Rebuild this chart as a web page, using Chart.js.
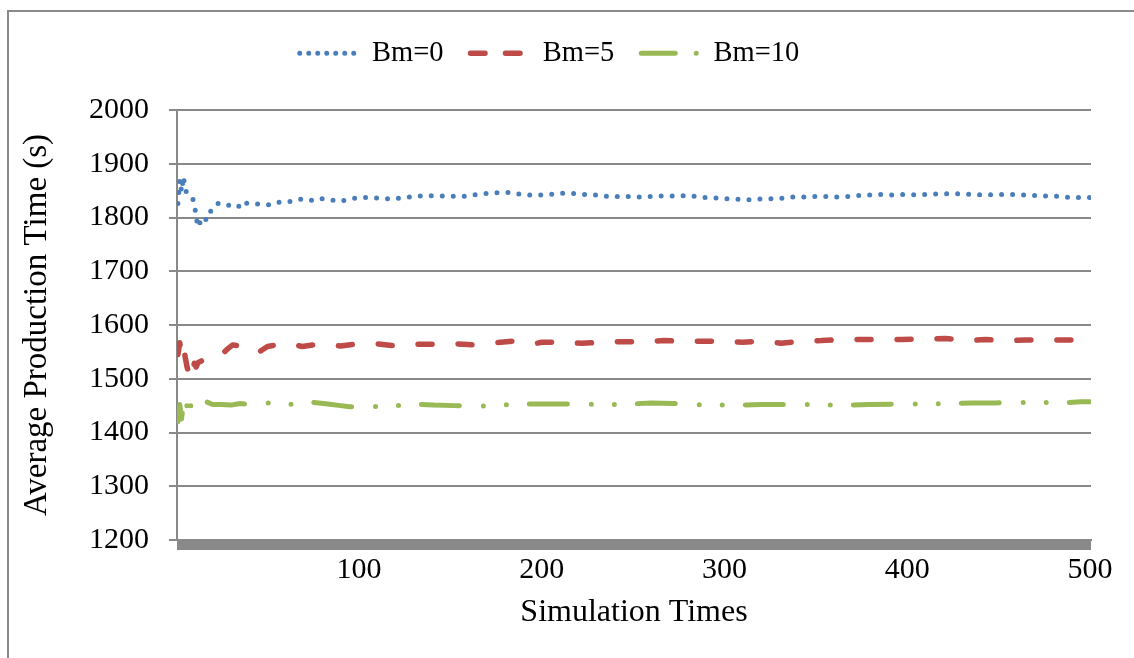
<!DOCTYPE html>
<html>
<head>
<meta charset="utf-8">
<script src="https://cdn.jsdelivr.net/npm/chart.js@4.4.0/dist/chart.umd.min.js"></script>
<style>
html,body{margin:0;padding:0;background:#fff;}
#frame{position:absolute;left:7px;top:10px;width:1200px;height:700px;border:2px solid #8a8a8a;box-sizing:border-box;}
#wrap{position:absolute;left:0;top:0;width:1134px;height:658px;}
</style>
</head>
<body>
<div id="frame"></div>
<div id="wrap"><canvas id="c" width="1134" height="658"></canvas></div>
<script>
// simulation run index (x) and average production time (y)
const runs0 = [1,2,3,4,5,6,7,8,9,10,
  11,12,13,14,15,17,19,21,23,26,
  30,34,36,40,47,52,57,63,68,73,
  78,84,89,95,100,106,112,118,124,130,
  136,142,148,154,160,166,172,178,184,190,
  196,202,208,214,220,226,232,238,244,250,
  256,262,268,274,280,286,292,300,306,312,
  318,324,330,336,342,350,356,362,368,374,
  380,386,392,400,406,412,418,424,430,436,
  442,450,456,462,468,474,480,486,492,500];
const time0 = [1826,1870,1848,1876,1852,1845,1840,1838,1836,1826,
  1800,1782,1790,1801,1798,1795,1812,1822,1826,1822,
  1823,1819,1830,1825,1825,1823,1829,1830,1834,1831,
  1836,1833,1830,1834,1837,1837,1836,1834,1837,1839,
  1841,1840,1840,1839,1840,1844,1845,1847,1846,1842,
  1842,1842,1844,1846,1844,1842,1842,1838,1840,1838,
  1838,1840,1840,1840,1841,1838,1837,1835,1834,1833,
  1834,1835,1835,1838,1838,1839,1839,1838,1839,1841,
  1842,1843,1842,1843,1842,1843,1844,1844,1844,1843,
  1842,1843,1843,1842,1841,1840,1840,1838,1837,1837];

const runs5 = [1,2,3,4,5,6,7,8,9,10,
  11,12,15,19,24,28,31,36,41,45,
  50,55,60,69,75,80,90,100,110,120,
  131,142,153,163,175,185,196,200,211,222,
  233,244,255,267,277,288,299,310,320,331,
  342,353,365,375,387,397,411,421,433,443,
  455,465,477,487,500];
const time5 = [1545,1567,1548,1562,1540,1522,1510,1499,1510,1529,
  1522,1530,1535,1538,1542,1555,1563,1560,1557,1549,
  1560,1563,1566,1560,1563,1565,1561,1565,1565,1561,
  1564,1564,1565,1563,1567,1570,1565,1568,1568,1566,
  1568,1569,1569,1571,1570,1570,1570,1568,1570,1566,
  1570,1571,1573,1573,1573,1573,1574,1575,1571,1573,
  1571,1572,1572,1572,1572];

const runs10 = [1,2,3,4,5,6,7,8,9,12,
  16,20,25,30,35,40,45,50,55,60,
  66,72,78,83,90,95,100,107,118,130,
  141,152,165,177,189,200,212,224,236,248,
  260,272,284,295,308,320,332,344,355,368,
  379,400,424,435,448,459,472,484,495,500];
const time10 = [1420,1452,1425,1455,1440,1451,1430,1450,1448,1465,
  1458,1452,1452,1451,1454,1452,1456,1455,1452,1451,
  1454,1457,1455,1453,1450,1448,1448,1448,1449,1453,
  1451,1450,1449,1451,1453,1453,1453,1453,1452,1453,
  1455,1454,1452,1451,1451,1452,1452,1452,1451,1451,
  1452,1453,1454,1455,1455,1456,1456,1455,1457,1457];

const seriesNames = ["Bm=0", "Bm=5", "Bm=10"];
const xLabelEvery = 100;
const yMin = 1200, yMax = 2000, yStep = 100;
const runCount = 500;

const FONT = "'Liberation Serif', 'Times New Roman', serif";
const GRID = "#898989";

function pts(xs, ys){ return xs.map((x,i)=>({x:x, y:ys[i]})); }

// legend samples get their own (shorter) dash rhythm, like the original
const legendDash = [[0,9],[14.5,20.5],[34,21,0,30]];

Chart.defaults.font.family = FONT;
Chart.defaults.color = "#000";

new Chart(document.getElementById("c"), {
  type: "line",
  data: {
    datasets: [
      { label: seriesNames[0], data: pts(runs0, time0), borderColor: "#4A7EBB", backgroundColor: "#4A7EBB",
        borderWidth: 5, borderDash: [0, 11], borderCapStyle: "round", borderJoinStyle: "round" },
      { label: seriesNames[1], data: pts(runs5, time5), borderColor: "#BE4B48", backgroundColor: "#BE4B48",
        borderWidth: 5.5, borderDash: [14, 26], borderCapStyle: "round", borderJoinStyle: "round" },
      { label: seriesNames[2], data: pts(runs10, time10), borderColor: "#98B954", backgroundColor: "#98B954",
        borderWidth: 5, borderDash: [38, 24, 0, 23, 0, 23], borderCapStyle: "round", borderJoinStyle: "round" }
    ]
  },
  options: {
    responsive: false,
    animation: false,
    events: [],
    elements: { point: { radius: 0, hoverRadius: 0 }, line: { tension: 0 } },
    layout: { padding: { top: 12, left: 8, right: 43, bottom: 0 } },
    plugins: {
      tooltip: { enabled: false },
      legend: {
        position: "top",
        labels: {
          font: { size: 28.5, family: FONT },
          usePointStyle: true,
          pointStyleWidth: 58,
          padding: 27,
          generateLabels: chart => chart.data.datasets.map((d,i)=>({
            text: d.label, fillStyle: d.borderColor, strokeStyle: d.borderColor,
            lineWidth: d.borderWidth, lineDash: legendDash[i], lineCap: "round",
            pointStyle: "line", rotation: 180, hidden: false, datasetIndex: i
          }))
        }
      },
      // empty spacer between legend and plot area
      subtitle: { display: true, text: "", weight: 500, font: { size: 1 }, padding: { top: 0, bottom: 31.3 } }
    },
    scales: {
      x: {
        type: "linear",
        min: 0.5, max: runCount + 0.5,
        afterBuildTicks: s => { const t = []; for (let v = 1; v <= runCount; v++) t.push({ value: v }); s.ticks = t; },
        afterFit: s => { s.height = 118; },
        grid: { drawOnChartArea: false, color: GRID, lineWidth: 2, tickLength: 10 },
        border: { display: true, color: GRID, width: 2 },
        ticks: {
          autoSkip: false, maxRotation: 0, minRotation: 0, padding: 2,
          font: { size: 30 },
          callback: v => (v % xLabelEvery === 0 ? String(v) : "")
        },
        title: { display: true, text: "Simulation Times", font: { size: 32 }, padding: { top: 0, bottom: 26 } }
      },
      y: {
        min: yMin, max: yMax,
        afterFit: s => { s.width = 169; },
        grid: { color: GRID, lineWidth: 2, tickLength: 8 },
        border: { display: true, color: GRID, width: 2 },
        ticks: { stepSize: yStep, padding: 20, font: { size: 30 }, callback: v => String(v) },
        title: { display: true, text: "Average Production Time (s)", font: { size: 33 }, padding: { top: 10, bottom: 0 } }
      }
    }
  }
});
</script>
</body>
</html>
